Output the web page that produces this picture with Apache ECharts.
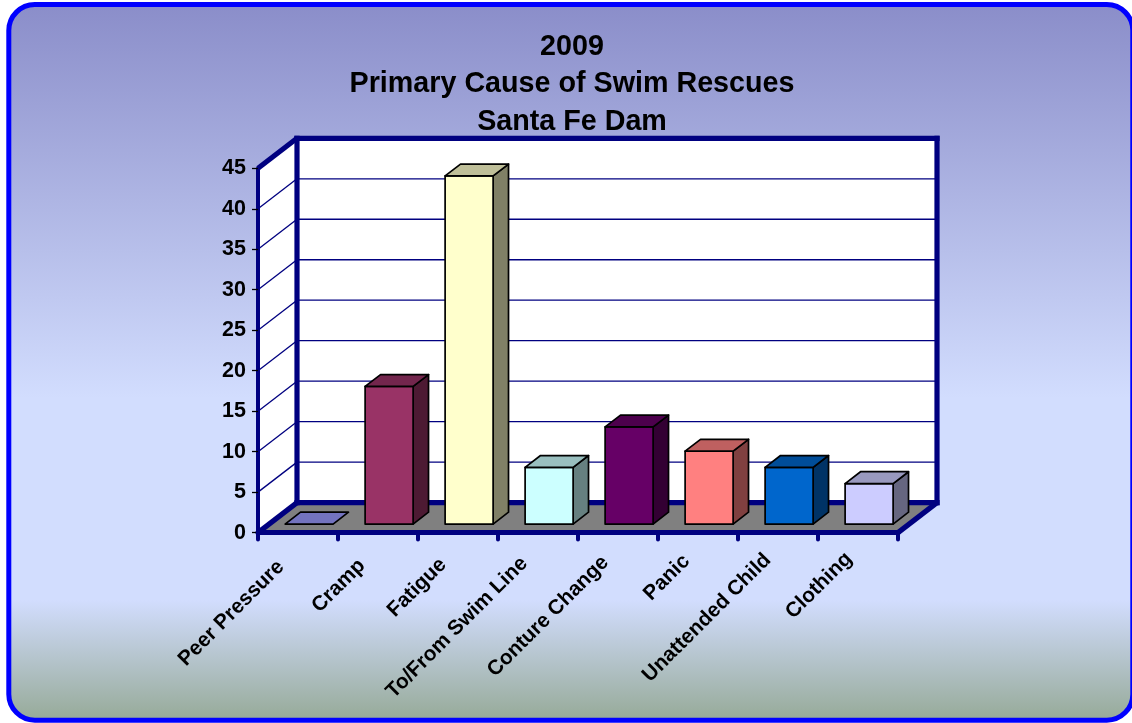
<!DOCTYPE html>
<html><head><meta charset="utf-8">
<style>html,body{margin:0;padding:0;background:#fff}#c{width:1132px;height:723px}</style>
<script src="https://cdn.jsdelivr.net/npm/echarts@6/dist/echarts.min.js"></script>
</head><body><div id="c"></div>
<script>
const categories = ['Peer Pressure','Cramp','Fatigue','To/From Swim Line','Conture Change','Panic','Unattended Child','Clothing'];
const values = [0,17,43,7,12,9,7,5];
const barColors = ['#9999FF','#993366','#FFFFCC','#CCFFFF','#660066','#FF8080','#0066CC','#CCCCFF'];
const yTicks = [5,10,15,20,25,30,35,40,45];
const titleText = '2009\nPrimary Cause of Swim Rescues\nSanta Fe Dam';

const DEPTH_X = 39, DEPTH_Y = 30, NAVY = '#000080';
const BAR_FRONT = 0.285, BAR_BACK = 0.68, BAR_WIDTH = 0.6;
const LABEL_FONT = {color:'#000',fontFamily:'Liberation Sans',fontWeight:'bold',fontSize:20.8};

function shade(hex, f){
  const n = parseInt(hex.slice(1),16);
  const c = s => Math.round(((n>>s)&255)*f);
  return `rgb(${c(16)},${c(8)},${c(0)})`;
}
function poly(points, fill, stroke, lw){
  return {type:'polygon', shape:{points}, style:{fill, stroke:stroke||'none', lineWidth:lw||0, lineJoin:'round'}};
}
function line(a,b,w,cap){
  return {type:'line', shape:{x1:a[0],y1:a[1],x2:b[0],y2:b[1]}, style:{stroke:NAVY, lineWidth:w, lineCap:cap||'butt'}};
}
function frame(api){
  const n = categories.length, band = api.size([1,0])[0];
  const p0 = api.coord([0,0]), p1 = api.coord([n-1,45]);
  return {l:p0[0]-band/2, r:p1[0]+band/2, b:p0[1], t:p1[1], band};
}
function renderWalls(params, api){
  const f = frame(api), dx=DEPTH_X, dy=DEPTH_Y;
  const A=[f.l,f.b],B=[f.r,f.b],C=[f.r+dx,f.b-dy],D=[f.l+dx,f.b-dy],E=[f.l+dx,f.t-dy],F=[f.r+dx,f.t-dy],G=[f.l,f.t];
  return {type:'group', children:[
    poly([D,E,F,C],'#fff'),
    poly([A,G,E,D],'#fff'),
    poly([A,B,C,D],'#808080')
  ]};
}
function renderGrid(params, api){
  const f = frame(api), y = api.coord([0,api.value(1)])[1];
  const a=[f.l,y], b=[f.l+DEPTH_X,y-DEPTH_Y], c=[f.r+DEPTH_X,y-DEPTH_Y];
  return {type:'group', children:[line(a,b,1.3), line(b,c,1.3)]};
}
function renderFrame(params, api){
  const f = frame(api), dx=DEPTH_X, dy=DEPTH_Y;
  const A=[f.l,f.b],B=[f.r,f.b],C=[f.r+dx,f.b-dy],D=[f.l+dx,f.b-dy],E=[f.l+dx,f.t-dy],F=[f.r+dx,f.t-dy],G=[f.l,f.t];
  return {type:'group', children:[
    line(D,E,5.2,'square'), line(E,F,5.2,'square'), line(F,C,5.2,'square'), line(D,C,5.2,'square'),
    line(G,E,5.2), line(A,D,5.2), line(B,C,5.2)
  ]};
}
function renderBar(params, api){
  const i = api.value(0), v = api.value(1), col = barColors[i];
  const band = api.size([1,0])[0];
  const base = api.coord([i,0]), top = api.coord([i,v]);
  const w = band*BAR_WIDTH;
  const fx = base[0]-w/2+DEPTH_X*BAR_FRONT, fy = -DEPTH_Y*BAR_FRONT;
  const bdx = DEPTH_X*(BAR_BACK-BAR_FRONT), bdy = DEPTH_Y*(BAR_BACK-BAR_FRONT);
  const yB = base[1]+fy, yT = top[1]+fy, x2 = fx+w;
  const s = '#000', lw = 1.7;
  const kids = [];
  if (v > 0) {
    kids.push(poly([[x2,yB],[x2,yT],[x2+bdx,yT-bdy],[x2+bdx,yB-bdy]], shade(col,0.5), s, lw));
    kids.push(poly([[fx,yB],[x2,yB],[x2,yT],[fx,yT]], col, s, lw));
  }
  kids.push(poly([[fx,yT],[x2,yT],[x2+bdx,yT-bdy],[fx+bdx,yT-bdy]], shade(col,0.75), s, lw));
  return {type:'group', children:kids};
}
// label slack along the text direction, one rich style per category
const richLabels = {};
categories.forEach((c,i)=>{
  richLabels['l'+i] = Object.assign({padding:[0,(categories.length-1-i)*1.6,0,0]}, LABEL_FONT);
});

const chart = echarts.init(document.getElementById('c'), null, {renderer:'canvas'});
chart.setOption({
  animation:false,
  graphic:[{type:'rect', z:-10, silent:true,
    shape:{x:8.8,y:4.5,width:1124,height:715.7,r:26},
    style:{stroke:'#0000FF', lineWidth:5,
      fill:new echarts.graphic.LinearGradient(0,0,0,1,[
        {offset:0,color:'#8A8DC9'},{offset:0.55,color:'#D2DDFE'},{offset:0.83,color:'#D2DDFE'},{offset:1,color:'#95A996'}
      ])}}],
  title:{text:titleText, left:567, top:23, textAlign:'center',
    textStyle:{fontFamily:'Liberation Sans',fontWeight:'bold',fontSize:28.7,lineHeight:37.5,color:'#000'}},
  grid:{left:258, top:168.3, width:640, height:364.3},
  xAxis:{type:'category', data:categories, z:6,
    axisLine:{lineStyle:{color:NAVY,width:5.2}},
    axisTick:{show:true,length:7,lineStyle:{color:NAVY,width:4,cap:'round'}},
    splitLine:{show:false},
    axisLabel:Object.assign({rotate:45,interval:0,margin:14,padding:[0,13,0,0],rich:richLabels,
      formatter:(v,i)=>`{l${i}|${v}}`},LABEL_FONT)},
  yAxis:{type:'value',min:0,max:45,interval:5,z:6,
    axisLine:{show:true,lineStyle:{color:NAVY,width:4}},
    axisTick:{show:true,length:6,lineStyle:{color:'#000',width:1.3}},
    splitLine:{show:false},
    axisLabel:{margin:12,padding:[3,0,0,0],color:'#000',fontFamily:'Liberation Sans',fontWeight:'bold',fontSize:21.5}},
  series:[
    {type:'custom',z:1,silent:true,clip:false,data:[[0,0]],renderItem:renderWalls},
    {type:'custom',z:2,silent:true,clip:false,data:yTicks.map(t=>[0,t]),renderItem:renderGrid},
    {type:'custom',z:3,silent:true,clip:false,data:[[0,0]],renderItem:renderFrame},
    {type:'custom',z:4,silent:true,clip:false,data:values.map((v,i)=>[i,v]),encode:{x:0,y:1},renderItem:renderBar}
  ]
});
</script></body></html>
